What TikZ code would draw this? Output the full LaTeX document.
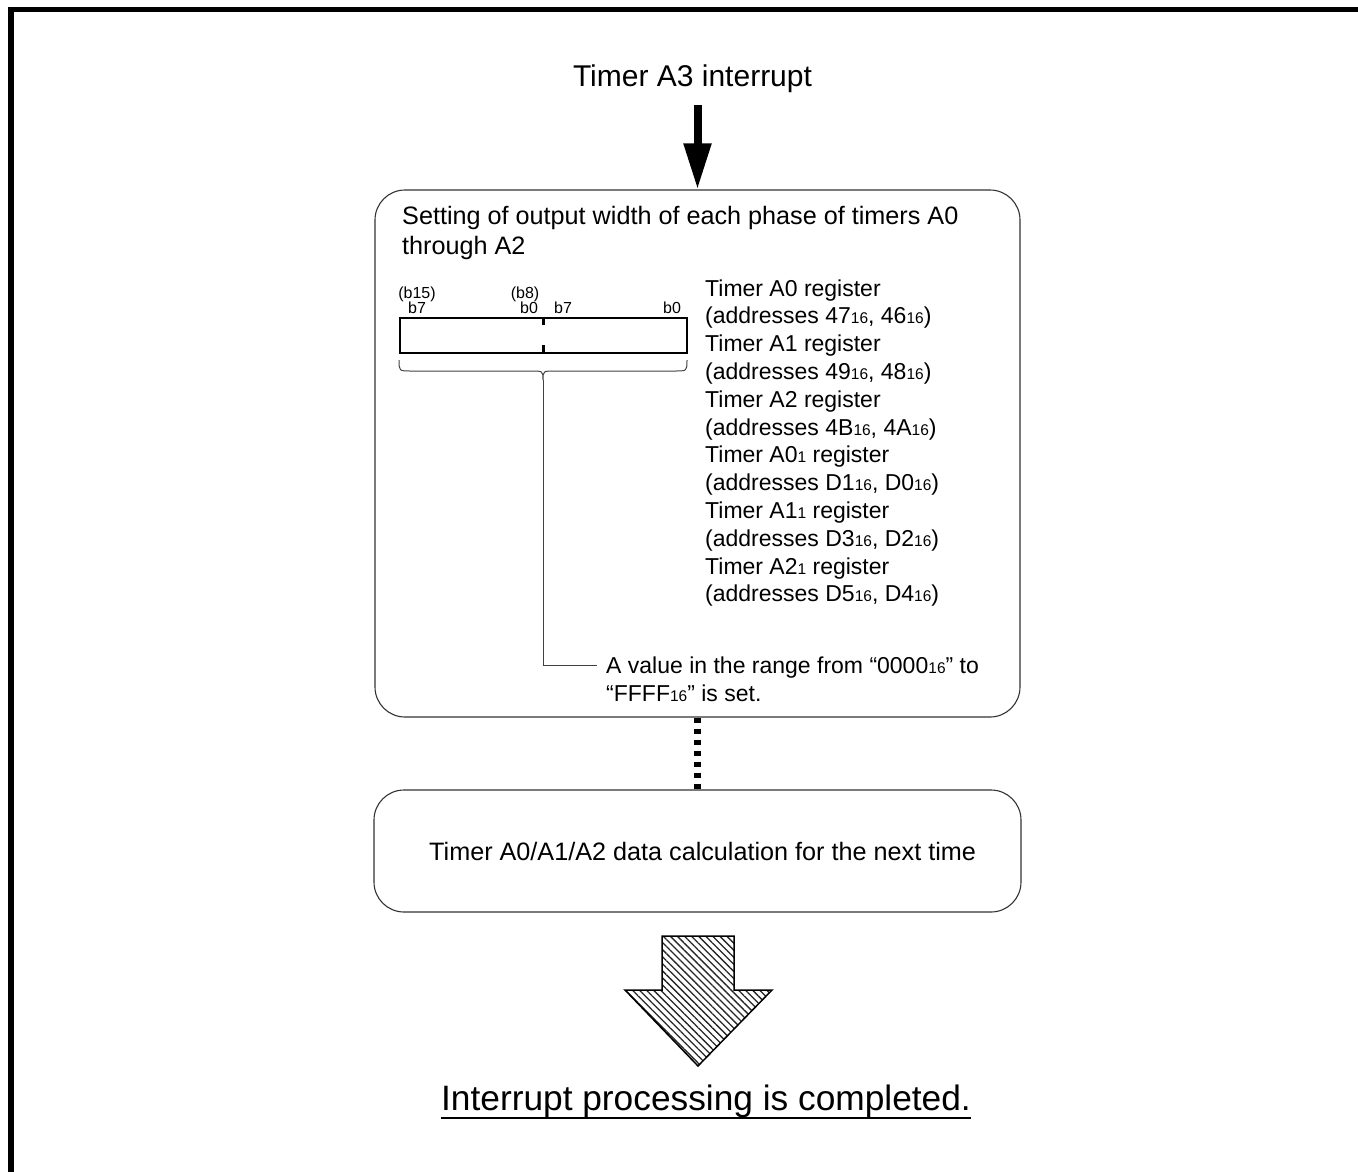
\documentclass[tikz,border=0pt]{standalone}
\usepackage{fontspec}
\setmainfont{Liberation Sans}
\usetikzlibrary{patterns.meta,arrows.meta,calc}
\newcommand\hx[1]{{\fontsize{15.5}{16}\selectfont #1}}
\tikzset{
  txt/.style={inner sep=0pt, anchor=base west},
  main/.style={txt, font=\fontsize{25.2}{30}\selectfont},
  regtxt/.style={txt, font=\fontsize{23}{28}\selectfont},
  bit/.style={inner sep=0pt, anchor=base, font=\fontsize{16}{18}\selectfont},
  roundbox/.style={draw=black!80, line width=1.1pt, rounded corners=30pt},
  thinline/.style={draw=black!75, line width=1pt},
}
\begin{document}
\begin{tikzpicture}[x=1pt,y=-1pt]
\useasboundingbox (0,0) rectangle (1358,1171);
% frame
\draw[line width=5.6pt, line join=miter] (10.8,1175) -- (10.8,9.5) -- (1362,9.5);

% title and arrow
\node[inner sep=0pt, anchor=base, font=\fontsize{30}{36}\selectfont] (title) at (692.5,86) {Timer A3 interrupt};
\coordinate (a3) at (697.5,105);

% box 1
\node[roundbox, minimum width=645pt, minimum height=527pt] (box1) at (697.5,453.5) {};
\draw[line width=8pt, -{Triangle[width=26pt,length=46pt]}] (a3) -- (box1.north);

\node[main] (h1) at (402,224) {Setting of output width of each phase of timers A0};
\node[main] (h2) at (402,254) {through A2};

% register
\node[draw, line width=2pt, minimum width=287pt, minimum height=35pt, inner sep=0pt] (reg) at (543.5,335.5) {};
\draw[line width=2.2pt] (reg.north) -- ++(0,8);
\draw[line width=2.2pt] (reg.south) -- ++(0,-9);
\node[bit] (b15) at (417,298) {(b15)};
\node[bit] (b7a) at (417,313) {b7};
\node[bit] (b8) at (525,298) {(b8)};
\node[bit] (b0a) at (529,313) {b0};
\node[bit] (b7b) at (563,313) {b7};
\node[bit] (b0b) at (672,313) {b0};

% brace and leader
\coordinate (bt) at (543,380);
\draw[thinline] (399,360) .. controls (399,371) .. (411,371) -- (531,371) .. controls (543,371) .. (bt)
  .. controls (543,371) .. (555,371) -- (675,371) .. controls (687,371) .. (687,360);
\coordinate (lead) at (597,665);
\draw[thinline] (bt) |- (lead);

% register list
\node[regtxt] (r1) at (705,296) {Timer A0 register};
\node[regtxt] (r2) at (705,323.8) {(addresses 47\hx{16}, 46\hx{16})};
\node[regtxt] (r3) at (705,351.6) {Timer A1 register};
\node[regtxt] (r4) at (705,379.4) {(addresses 49\hx{16}, 48\hx{16})};
\node[regtxt] (r5) at (705,407.2) {Timer A2 register};
\node[regtxt] (r6) at (705,435) {(addresses 4B\hx{16}, 4A\hx{16})};
\node[regtxt] (r7) at (705,462.8) {Timer A0\hx{1} register};
\node[regtxt] (r8) at (705,490.6) {(addresses D1\hx{16}, D0\hx{16})};
\node[regtxt] (r9) at (705,518.4) {Timer A1\hx{1} register};
\node[regtxt] (r10) at (705,546.2) {(addresses D3\hx{16}, D2\hx{16})};
\node[regtxt] (r11) at (705,574) {Timer A2\hx{1} register};
\node[regtxt] (r12) at (705,601.8) {(addresses D5\hx{16}, D4\hx{16})};

% annotation
\node[regtxt] (n1) at (606,673) {A value in the range from “0000\hx{16}” to};
\node[regtxt] (n2) at (606,701) {“FFFF\hx{16}” is set.};

% box 2
\node[roundbox, minimum width=647pt, minimum height=122pt] (box2) at (697.5,851) {};
\node[main] (calc) at (429,860) {Timer A0/A1/A2 data calculation for the next time};
\draw[line width=7pt, dash pattern=on 5pt off 6pt] (box1.south) -- (box2.north);

% hatched arrow
\draw[line width=1.5pt, line join=miter, pattern={Lines[angle=-45,distance=5pt,line width=1.3pt]}, pattern color=black!85]
  (662,936) -- (734,936) -- (734,990) -- (772,990) -- (698,1066) -- (625,990) -- (662,990) -- cycle;

% bottom text
\node[inner sep=0pt, anchor=base, font=\fontsize{35.3}{42}\selectfont] (done) at (706,1110) {Interrupt processing is completed.};
\draw[line width=2pt] ($(done.base west)+(0,8)$) -- ($(done.base east)+(0,8)$);
\end{tikzpicture}
\end{document}
